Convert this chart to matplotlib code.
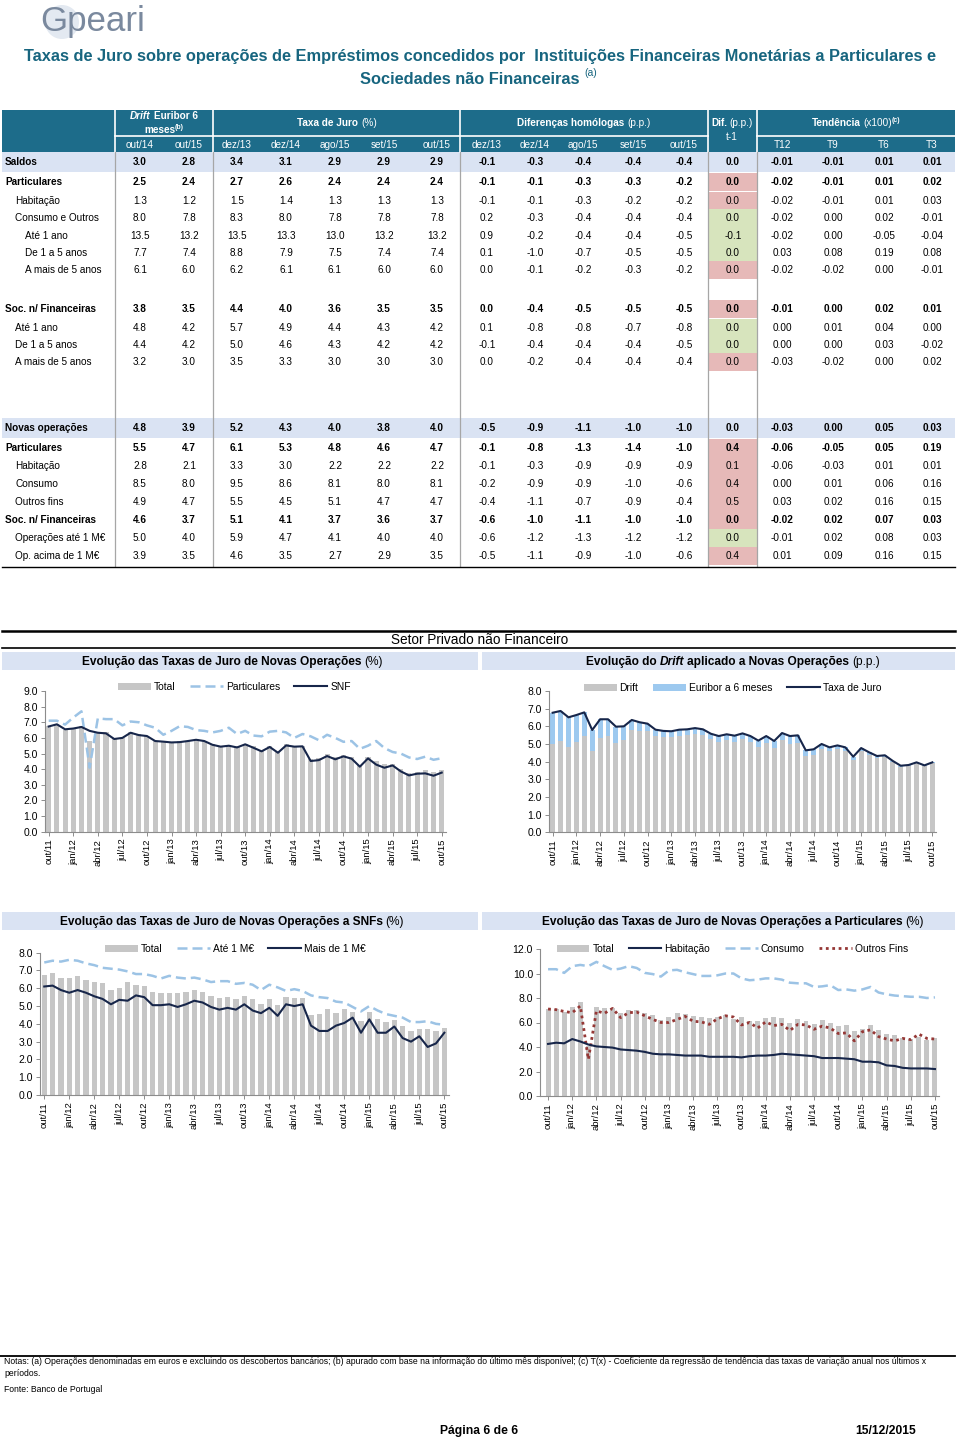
import matplotlib
matplotlib.use('Agg')
import matplotlib.pyplot as plt
from matplotlib.patches import Rectangle, Ellipse
from matplotlib.lines import Line2D
import numpy as np

plt.rcParams['font.family'] = ['Liberation Sans', 'DejaVu Sans']

# ---------------- DATA ----------------
tick_labels = ['out/11', 'jan/12', 'abr/12', 'jul/12', 'out/12', 'jan/13', 'abr/13', 'jul/13',
               'out/13', 'jan/14', 'abr/14', 'jul/14', 'out/14', 'jan/15', 'abr/15', 'jul/15', 'out/15']

total = [6.77, 6.87, 6.51, 6.64, 6.79, 5.79, 6.40, 6.40, 5.98, 6.00, 6.36, 6.23, 6.15, 5.81, 5.74, 5.72,
         5.81, 5.83, 5.90, 5.83, 5.58, 5.45, 5.55, 5.47, 5.60, 5.45, 5.19, 5.45, 5.17, 5.62, 5.45, 5.49,
         4.64, 4.70, 5.00, 4.81, 4.92, 4.81, 4.28, 4.77, 4.53, 4.32, 4.36, 4.04, 3.77, 3.81, 3.96, 3.79, 3.96]
particulares = [7.1, 7.1, 6.85, 7.3, 7.7, 4.1, 7.25, 7.2, 7.2, 6.8, 7.05, 7.0, 6.8, 6.65, 6.2, 6.45,
                6.75, 6.7, 6.5, 6.45, 6.35, 6.45, 6.65, 6.25, 6.45, 6.15, 6.1, 6.4, 6.45, 6.35, 6.0, 6.25,
                6.1, 5.85, 6.2, 6.0, 5.75, 5.8, 5.3, 5.5, 5.8, 5.35, 5.1, 5.0, 4.75, 4.65, 4.8, 4.6, 4.7]
snf = [6.73, 6.87, 6.55, 6.60, 6.70, 6.45, 6.33, 6.29, 5.93, 6.00, 6.33, 6.18, 6.12, 5.80, 5.76, 5.71,
       5.73, 5.80, 5.88, 5.80, 5.56, 5.44, 5.50, 5.39, 5.59, 5.37, 5.14, 5.42, 5.05, 5.52, 5.44, 5.46,
       4.52, 4.58, 4.84, 4.63, 4.82, 4.67, 4.16, 4.69, 4.29, 4.09, 4.24, 3.86, 3.60, 3.71, 3.73, 3.58, 3.78]
euribor = [1.78, 1.71, 1.67, 1.50, 1.35, 1.16, 1.04, 0.97, 0.93, 0.78, 0.58, 0.48, 0.41, 0.36, 0.32,
           0.34, 0.36, 0.33, 0.32, 0.30, 0.32, 0.34, 0.34, 0.34, 0.34, 0.33, 0.37,
           0.40, 0.39, 0.41, 0.43, 0.42, 0.33, 0.31, 0.29, 0.20, 0.18, 0.18, 0.17,
           0.15, 0.13, 0.09, 0.07, 0.06, 0.05, 0.05, 0.04, 0.04, 0.02]
ate_1m = [7.45, 7.55, 7.5, 7.6, 7.55, 7.4, 7.3, 7.15, 7.1, 7.05, 6.95, 6.8, 6.8, 6.7, 6.55, 6.7, 6.6,
          6.55, 6.6, 6.5, 6.35, 6.4, 6.4, 6.25, 6.3, 6.2, 5.9, 6.2, 6.05, 5.85, 5.95, 5.85, 5.6, 5.5,
          5.45, 5.25, 5.2, 4.95, 4.7, 5.0, 4.75, 4.55, 4.45, 4.35, 4.1, 4.1, 4.15, 4.0, 3.95]
mais_1m = [6.1, 6.15, 5.9, 5.75, 5.9, 5.75, 5.55, 5.4, 5.1, 5.35, 5.3, 5.6, 5.5, 5.05, 5.05, 5.1, 4.95,
           5.1, 5.3, 5.2, 4.95, 4.8, 4.9, 4.8, 5.1, 4.75, 4.6, 4.9, 4.45, 5.1, 5.0, 5.1, 3.9, 3.6, 3.6,
           3.9, 4.05, 4.35, 3.5, 4.25, 3.5, 3.5, 3.85, 3.2, 3.0, 3.3, 2.7, 2.9, 3.5]
habitacao = [4.25, 4.35, 4.3, 4.65, 4.45, 4.2, 4.05, 4.0, 3.95, 3.8, 3.75, 3.7, 3.6, 3.45, 3.4, 3.4,
             3.35, 3.3, 3.3, 3.3, 3.2, 3.2, 3.2, 3.2, 3.15, 3.25, 3.3, 3.3, 3.35, 3.45, 3.4, 3.35, 3.3,
             3.25, 3.1, 3.1, 3.1, 3.05, 3.0, 2.8, 2.8, 2.75, 2.5, 2.45, 2.3, 2.25, 2.25, 2.25, 2.2]
consumo = [10.35, 10.35, 10.05, 10.6, 10.7, 10.6, 10.95, 10.6, 10.3, 10.4, 10.6, 10.45, 10.05, 9.95,
           9.75, 10.25, 10.3, 10.1, 9.95, 9.8, 9.8, 9.85, 10.0, 10.0, 9.6, 9.45, 9.5, 9.6, 9.6, 9.5,
           9.25, 9.2, 9.2, 8.9, 8.95, 9.05, 8.65, 8.7, 8.6, 8.7, 8.9, 8.45, 8.3, 8.2, 8.15, 8.1, 8.1,
           8.0, 8.05]
outros_fins = [7.1, 7.05, 6.9, 6.8, 7.35, 3.0, 6.95, 6.75, 7.15, 6.4, 6.8, 6.85, 6.55, 6.25, 6.0, 6.0,
               6.25, 6.5, 6.1, 6.05, 5.85, 6.3, 6.55, 6.45, 5.8, 6.0, 5.55, 6.05, 5.75, 5.85, 5.35,
               5.85, 5.8, 5.45, 5.7, 5.55, 5.1, 5.15, 4.5, 5.25, 5.4, 4.85, 4.65, 4.5, 4.7, 4.6, 5.05,
               4.7, 4.65]

row_labels = ['Saldos', 'Particulares', 'Habitação', 'Consumo e Outros', 'Até 1 ano', 'De 1 a 5 anos',
              'A mais de 5 anos', 'Soc. n/ Financeiras', 'Até 1 ano', 'De 1 a 5 anos', 'A mais de 5 anos',
              'Novas operações', 'Particulares', 'Habitação', 'Consumo', 'Outros fins',
              'Soc. n/ Financeiras', 'Operações até 1 M€', 'Op. acima de 1 M€']
row_values = [
    [3.0, 2.8, 3.4, 3.1, 2.9, 2.9, 2.9, -0.1, -0.3, -0.4, -0.4, -0.4, 0.0, -0.01, -0.01, 0.01, 0.01],
    [2.5, 2.4, 2.7, 2.6, 2.4, 2.4, 2.4, -0.1, -0.1, -0.3, -0.3, -0.2, 0.0, -0.02, -0.01, 0.01, 0.02],
    [1.3, 1.2, 1.5, 1.4, 1.3, 1.3, 1.3, -0.1, -0.1, -0.3, -0.2, -0.2, 0.0, -0.02, -0.01, 0.01, 0.03],
    [8.0, 7.8, 8.3, 8.0, 7.8, 7.8, 7.8, 0.2, -0.3, -0.4, -0.4, -0.4, 0.0, -0.02, 0.00, 0.02, -0.01],
    [13.5, 13.2, 13.5, 13.3, 13.0, 13.2, 13.2, 0.9, -0.2, -0.4, -0.4, -0.5, -0.1, -0.02, 0.00, -0.05, -0.04],
    [7.7, 7.4, 8.8, 7.9, 7.5, 7.4, 7.4, 0.1, -1.0, -0.7, -0.5, -0.5, 0.0, 0.03, 0.08, 0.19, 0.08],
    [6.1, 6.0, 6.2, 6.1, 6.1, 6.0, 6.0, 0.0, -0.1, -0.2, -0.3, -0.2, 0.0, -0.02, -0.02, 0.00, -0.01],
    [3.8, 3.5, 4.4, 4.0, 3.6, 3.5, 3.5, 0.0, -0.4, -0.5, -0.5, -0.5, 0.0, -0.01, 0.00, 0.02, 0.01],
    [4.8, 4.2, 5.7, 4.9, 4.4, 4.3, 4.2, 0.1, -0.8, -0.8, -0.7, -0.8, 0.0, 0.00, 0.01, 0.04, 0.00],
    [4.4, 4.2, 5.0, 4.6, 4.3, 4.2, 4.2, -0.1, -0.4, -0.4, -0.4, -0.5, 0.0, 0.00, 0.00, 0.03, -0.02],
    [3.2, 3.0, 3.5, 3.3, 3.0, 3.0, 3.0, 0.0, -0.2, -0.4, -0.4, -0.4, 0.0, -0.03, -0.02, 0.00, 0.02],
    [4.8, 3.9, 5.2, 4.3, 4.0, 3.8, 4.0, -0.5, -0.9, -1.1, -1.0, -1.0, 0.0, -0.03, 0.00, 0.05, 0.03],
    [5.5, 4.7, 6.1, 5.3, 4.8, 4.6, 4.7, -0.1, -0.8, -1.3, -1.4, -1.0, 0.4, -0.06, -0.05, 0.05, 0.19],
    [2.8, 2.1, 3.3, 3.0, 2.2, 2.2, 2.2, -0.1, -0.3, -0.9, -0.9, -0.9, 0.1, -0.06, -0.03, 0.01, 0.01],
    [8.5, 8.0, 9.5, 8.6, 8.1, 8.0, 8.1, -0.2, -0.9, -0.9, -1.0, -0.6, 0.4, 0.00, 0.01, 0.06, 0.16],
    [4.9, 4.7, 5.5, 4.5, 5.1, 4.7, 4.7, -0.4, -1.1, -0.7, -0.9, -0.4, 0.5, 0.03, 0.02, 0.16, 0.15],
    [4.6, 3.7, 5.1, 4.1, 3.7, 3.6, 3.7, -0.6, -1.0, -1.1, -1.0, -1.0, 0.0, -0.02, 0.02, 0.07, 0.03],
    [5.0, 4.0, 5.9, 4.7, 4.1, 4.0, 4.0, -0.6, -1.2, -1.3, -1.2, -1.2, 0.0, -0.01, 0.02, 0.08, 0.03],
    [3.9, 3.5, 4.6, 3.5, 2.7, 2.9, 3.5, -0.5, -1.1, -0.9, -1.0, -0.6, 0.4, 0.01, 0.09, 0.16, 0.15],
]
row_bold = [1, 1, 0, 0, 0, 0, 0, 1, 0, 0, 0, 1, 1, 0, 0, 0, 1, 0, 0]
row_indent = [0, 0, 1, 1, 2, 2, 2, 0, 1, 1, 1, 0, 0, 1, 1, 1, 0, 1, 1]
row_band = [1, 0, 0, 0, 0, 0, 0, 0, 0, 0, 0, 1, 0, 0, 0, 0, 0, 0, 0]
dif_color = ['', 'P', 'P', 'G', 'G', 'G', 'P', 'P', 'G', 'G', 'P', '', 'P', 'P', 'P', 'P', 'P', 'G', 'P']
sub_headers = ['out/14', 'out/15', 'dez/13', 'dez/14', 'ago/15', 'set/15', 'out/15',
               'dez/13', 'dez/14', 'ago/15', 'set/15', 'out/15', '', 'T12', 'T9', 'T6', 'T3']

# ---------------- LAYOUT HELPERS ----------------
W, H = 960, 1439
fig = plt.figure(figsize=(W / 100, H / 100), dpi=100)
renderer = fig.canvas.get_renderer()


def fx(x):
    return x / W


def fy(y):
    return 1 - y / H


def txt(x, y, s, size=7.2, ha='center', va='center', weight='normal', color='black', style='normal', **kw):
    return fig.text(fx(x), fy(y), s, fontsize=size, ha=ha, va=va, fontweight=weight,
                    color=color, fontstyle=style, **kw)


def rect(x0, y0, x1, y1, color, z=0):
    fig.add_artist(Rectangle((fx(x0), fy(y1)), (x1 - x0) / W, (y1 - y0) / H,
                             transform=fig.transFigure, facecolor=color, edgecolor='none', zorder=z))


def hline(x0, x1, y, color='black', lw=1.0):
    fig.add_artist(Line2D([fx(x0), fx(x1)], [fy(y), fy(y)], color=color, lw=lw, transform=fig.transFigure))


def vline(x, y0, y1, color='black', lw=1.0):
    fig.add_artist(Line2D([fx(x), fx(x)], [fy(y0), fy(y1)], color=color, lw=lw, transform=fig.transFigure))


def mixed(x, y, parts, size, color='black', ha='center'):
    """parts: (text, weight, style, size_factor, raise_px, gap_before_px); y is baseline."""
    objs = []
    for p in parts:
        s, w, st = p[0], p[1], p[2]
        sf = p[3] if len(p) > 3 else 1.0
        dy = p[4] if len(p) > 4 else 0
        gap = p[5] if len(p) > 5 else 0
        t = fig.text(0, 0, s, fontsize=size * sf, fontweight=w, fontstyle=st, color=color,
                     ha='left', va='baseline')
        wd = t.get_window_extent(renderer).width
        objs.append((t, wd, dy, gap))
    total_w = sum(o[1] + o[3] for o in objs)
    cur = x - total_w / 2 if ha == 'center' else x
    for t, wd, dy, gap in objs:
        cur += gap
        t.set_position((fx(cur), fy(y - dy)))
        cur += wd


def fit(t, target):
    for _ in range(4):
        wd = t.get_window_extent(renderer).width
        t.set_fontsize(t.get_fontsize() * target / wd)


TEAL = '#1d6c8a'
TITLE = '#17657f'
BAND = '#dae3f3'
PINK = '#e6b9b8'
GREEN = '#d7e4bd'
GRAY_BAR = '#c6c6c6'
LBLUE = '#9cc3e5'
NAVY = '#17264a'
DRED = '#953735'

# ---------------- LOGO + TITLE ----------------
fig.add_artist(Ellipse((fx(62), fy(22)), 34 / W, 34 / H, transform=fig.transFigure,
                       facecolor='#e3e9f1', edgecolor='none'))
lg = txt(40, 21, 'Gpeari', size=24, ha='left', color='#7a899e')
fit(lg, 105)
t1 = txt(480, 56, 'Taxas de Juro sobre operações de Empréstimos concedidos por  Instituições Financeiras '
                  'Monetárias a Particulares e', size=10, weight='bold', color=TITLE)
fit(t1, 913)
t2 = txt(470, 79, 'Sociedades não Financeiras', size=t1.get_fontsize(), weight='bold', color=TITLE)
txt(584, 73, '(a)', size=7.5, color=TITLE, ha='left')

# ---------------- TABLE ----------------
col_x = [140, 189, 237, 286, 335, 384, 437, 487, 535, 583, 633, 684, 733, 782, 833, 884, 932]
row_y = [162, 182, 201, 218, 236, 253, 270, 309, 328, 345, 362, 428, 448, 466, 484, 502, 520, 538, 556]

# header
rect(2, 110, 955, 152, TEAL)
for xv in [115, 213, 460, 708, 757]:
    vline(xv, 110, 152, 'white', 1.2)
hline(115, 708, 136, 'white', 1.2)
hline(757, 955, 136, 'white', 1.2)
WH = 'white'
mixed(164, 119, [('Drift', 'bold', 'italic'), ('Euribor 6', 'bold', 'normal', 1.0, 0, 3)], 7.2, WH)
mixed(164, 133, [('meses', 'bold', 'normal'), ('(b)', 'bold', 'normal', 0.7, 4)], 7.2, WH)
mixed(337, 126, [('Taxa de Juro', 'bold', 'normal'), ('(%)', 'normal', 'normal', 1.0, 0, 3)], 7.2, WH)
mixed(584, 126, [('Diferenças homólogas', 'bold', 'normal'), ('(p.p.)', 'normal', 'normal', 1.0, 0, 3)],
      7.2, WH)
mixed(732, 126, [('Dif.', 'bold', 'normal'), ('(p.p.)', 'normal', 'normal', 1.0, 0, 3)], 7.2, WH)
txt(732, 137, 't-1', size=7.2, color=WH)
mixed(856, 126, [('Tendência', 'bold', 'normal'), ('(x100)', 'normal', 'normal', 1.0, 0, 3),
                 ('(c)', 'bold', 'normal', 0.7, 4)], 7.2, WH)
for cx, s in zip(col_x, sub_headers):
    if s:
        txt(cx, 144.5, s, size=7.2, color=WH)

# bands
for ry, b in zip(row_y, row_band):
    if b:
        rect(2, ry - 9.5, 955, ry + 9.5, BAND)

# dif column colours
for i, (ry, c) in enumerate(zip(row_y, dif_color)):
    if c:
        rect(708, ry - 9, 757, ry + 9, PINK if c == 'P' else GREEN)

# vertical separators
for xv in [115, 213, 460, 708, 757]:
    vline(xv, 152, 566, '#a6a6a6', 0.9)
hline(2, 955, 566.5, 'black', 1.0)

for lab, vals, b, ind, ry in zip(row_labels, row_values, row_bold, row_indent, row_y):
    w = 'bold' if b else 'normal'
    txt(5 + ind * 10, ry, lab, size=7.2, ha='left', weight=w)
    for j, (cx, v) in enumerate(zip(col_x, vals)):
        s = f'{v:.2f}' if j >= 13 else f'{v:.1f}'
        txt(cx, ry, s, size=7.2, weight=w)

# ---------------- CHART SECTION HEADERS ----------------
hline(2, 955, 631, 'black', 1.8)
txt(480, 640, 'Setor Privado não Financeiro', size=9.8)
hline(2, 955, 648.5, 'black', 1.2)
rect(2, 652, 478, 670, BAND)
rect(482, 652, 955, 670, BAND)
mixed(232, 665, [('Evolução das Taxas de Juro de Novas Operações', 'bold', 'normal'),
                 ('(%)', 'normal', 'normal', 1.0, 0, 3)], 8.6)
mixed(733, 665, [('Evolução do', 'bold', 'normal'), ('Drift', 'bold', 'italic', 1.0, 0, 3),
                 ('aplicado a Novas Operações', 'bold', 'normal', 1.0, 0, 3),
                 ('(p.p.)', 'normal', 'normal', 1.0, 0, 3)], 8.6)
rect(2, 912, 478, 930, BAND)
rect(482, 912, 955, 930, BAND)
mixed(232, 925, [('Evolução das Taxas de Juro de Novas Operações a SNFs', 'bold', 'normal'),
                 ('(%)', 'normal', 'normal', 1.0, 0, 3)], 8.6)
mixed(733, 925, [('Evolução das Taxas de Juro de Novas Operações a Particulares', 'bold', 'normal'),
                 ('(%)', 'normal', 'normal', 1.0, 0, 3)], 8.6)


# ---------------- CHARTS ----------------
def make_ax(x0, x1, ytop, ybot):
    ax = fig.add_axes([fx(x0), fy(ybot), (x1 - x0) / W, (ybot - ytop) / H])
    for s in ['top', 'right']:
        ax.spines[s].set_visible(False)
    for s in ['left', 'bottom']:
        ax.spines[s].set_color('#8c8c8c')
        ax.spines[s].set_linewidth(0.8)
    ax.tick_params(axis='y', labelsize=7.5, length=3, width=0.7, color='#8c8c8c', pad=2)
    ax.tick_params(axis='x', labelsize=6.8, length=3, width=0.7, color='#8c8c8c', pad=2,
                   labelrotation=90)
    ax.set_facecolor('none')
    return ax


x = np.arange(len(total))
ticks = np.arange(0, len(total), 3)
leg_kw = dict(frameon=False, ncol=4, fontsize=7.4, handlelength=3.2, handletextpad=0.3,
              columnspacing=1.4, borderaxespad=0, loc='center')


def finish(ax, ymax, xlo=-0.5):
    ax.set_xlim(xlo, len(total) - 0.5)
    ax.set_ylim(0, ymax)
    ax.set_yticks(np.arange(0, ymax + 0.01, 2.0 if ymax == 12 else 1.0))
    ax.yaxis.set_major_formatter(matplotlib.ticker.FormatStrFormatter('%.1f'))
    ax.set_xticks(ticks)
    ax.set_xticklabels(tick_labels)


# Chart 1
ax1 = make_ax(44.6, 445.8, 691, 831.7)
b1 = ax1.bar(x, total, width=0.62, color=GRAY_BAR, label='Total', zorder=1)
l1, = ax1.plot(x, particulares, color=LBLUE, lw=1.8, dashes=(4, 2), label='Particulares', zorder=2)
l2, = ax1.plot(x, snf, color=NAVY, lw=1.5, label='SNF', zorder=3)
finish(ax1, 9)
ax1.legend(handles=[b1, l1, l2], bbox_to_anchor=(0.473, 1.03), **leg_kw)

# Chart 2
drift = [t - e for t, e in zip(total, euribor)]
ax2 = make_ax(548.7, 936.3, 691, 832.3)
b1 = ax2.bar(x, drift, width=0.62, color=GRAY_BAR, label='Drift', zorder=1)
b2 = ax2.bar(x, euribor, bottom=drift, width=0.62, color='#9dc9ef', label='Euribor a 6 meses', zorder=1)
l1, = ax2.plot(x, total, color=NAVY, lw=1.5, label='Taxa de Juro', zorder=3)
finish(ax2, 8)
ax2.legend(handles=[b1, b2, l1], bbox_to_anchor=(0.474, 1.022), **leg_kw)

# Chart 3
ax3 = make_ax(40.1, 448.5, 952.7, 1095)
b1 = ax3.bar(x, snf, width=0.62, color=GRAY_BAR, label='Total', zorder=1)
l1, = ax3.plot(x, ate_1m, color=LBLUE, lw=1.8, dashes=(4, 2), label='Até 1 M€', zorder=2)
l2, = ax3.plot(x, mais_1m, color=NAVY, lw=1.5, label='Mais de 1 M€', zorder=3)
finish(ax3, 8)
ax3.legend(handles=[b1, l1, l2], bbox_to_anchor=(0.478, 1.026), **leg_kw)

# Chart 4
ax4 = make_ax(540, 939, 949, 1096)
b1 = ax4.bar(x, particulares, width=0.62, color=GRAY_BAR, label='Total', zorder=1)
l1, = ax4.plot(x, habitacao, color=NAVY, lw=1.5, label='Habitação', zorder=3)
l2, = ax4.plot(x, consumo, color=LBLUE, lw=1.8, dashes=(4, 2), label='Consumo', zorder=2)
l3, = ax4.plot(x, outros_fins, color=DRED, lw=2.0, dashes=(1, 1.3), label='Outros Fins', zorder=2)
finish(ax4, 12, xlo=-1.0)
ax4.legend(handles=[b1, l1, l2, l3], bbox_to_anchor=(0.482, 1.0), **leg_kw)

# ---------------- FOOTER ----------------
hline(0, 955, 1356, 'black', 1.3)
NARROW = ['Liberation Sans Narrow', 'Liberation Sans', 'DejaVu Sans']
n1 = fig.text(fx(4), fy(1362), 'Notas: (a) Operações denominadas em euros e excluindo os descobertos bancários; '
              '(b) apurado com base na informação do último mês disponível; (c) T(x) - Coeficiente da '
              'regressão de tendência das taxas de variação anual nos últimos x',
              fontsize=6.0, family=NARROW, ha='left', va='center')
fit(n1, 936)
fig.text(fx(4), fy(1374), 'períodos.', fontsize=n1.get_fontsize(), family=NARROW, ha='left', va='center')
fig.text(fx(4), fy(1389), 'Fonte: Banco de Portugal', fontsize=n1.get_fontsize(), family=NARROW,
         ha='left', va='center')
p1 = fig.text(fx(479), fy(1431), 'Página 6 de 6', fontsize=8, family=NARROW, weight='bold',
              ha='center', va='center')
fit(p1, 78)
p2 = fig.text(fx(886), fy(1431), '15/12/2015', fontsize=8, family=NARROW, weight='bold',
              ha='center', va='center')
fit(p2, 61)

fig.savefig('out.png', dpi=100)
